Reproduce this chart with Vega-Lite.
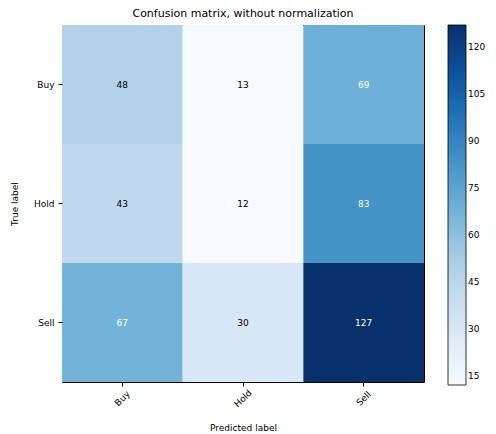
{
  "$schema": "https://vega.github.io/schema/vega-lite/v6.json",
  "width": 362,
  "height": 357,
  "padding": {"left": 10, "top": 8, "right": 5, "bottom": 2},
  "background": "white",
  "config": {
    "font": "DejaVu Sans",
    "view": {"stroke": "#000000", "strokeWidth": 1},
    "axis": {"labelFont": "DejaVu Sans", "titleFont": "DejaVu Sans", "labelFontSize": 9, "titleFontSize": 9, "titleFontWeight": "normal", "labelColor": "#000", "titleColor": "#000", "domain": false, "grid": false, "tickColor": "#000", "tickSize": 4}
  },
  "title": {"text": "Confusion matrix, without normalization", "font": "DejaVu Sans", "fontSize": 11, "fontWeight": "normal", "color": "#000", "offset": 6},
  "data": {"values": [
    {"true": "Buy", "pred": "Buy", "count": 48},
    {"true": "Buy", "pred": "Hold", "count": 13},
    {"true": "Buy", "pred": "Sell", "count": 69},
    {"true": "Hold", "pred": "Buy", "count": 43},
    {"true": "Hold", "pred": "Hold", "count": 12},
    {"true": "Hold", "pred": "Sell", "count": 83},
    {"true": "Sell", "pred": "Buy", "count": 67},
    {"true": "Sell", "pred": "Hold", "count": 30},
    {"true": "Sell", "pred": "Sell", "count": 127}
  ]},
  "encoding": {
    "x": {"field": "pred", "type": "nominal", "sort": ["Buy", "Hold", "Sell"], "title": "Predicted label",
      "axis": {"labelAngle": -45, "labelAlign": "center", "labelBaseline": "middle", "labelPadding": 12, "titlePadding": 15}},
    "y": {"field": "true", "type": "nominal", "sort": ["Buy", "Hold", "Sell"], "title": "True label",
      "axis": {"labelAngle": 0, "labelPadding": 4, "titlePadding": 14}}
  },
  "layer": [
    {
      "mark": {"type": "rect"},
      "encoding": {
        "color": {"field": "count", "type": "quantitative",
          "scale": {"domain": [12, 26.375, 40.75, 55.125, 69.5, 83.875, 98.25, 112.625, 127],
                    "range": ["#f7fbff", "#deebf7", "#c6dbef", "#9ecae1", "#6baed6", "#4292c6", "#2171b5", "#08519c", "#08306b"]},
          "legend": {"title": null, "values": [15, 30, 45, 60, 75, 90, 105, 120], "gradientLength": 360, "gradientThickness": 18, "gradientStrokeColor": "#000", "gradientStrokeWidth": 0.8, "labelFont": "DejaVu Sans", "labelFontSize": 9, "labelColor": "#000", "offset": 24, "tickCount": 8}
        }
      }
    },
    {
      "mark": {"type": "text", "font": "DejaVu Sans", "fontSize": 9},
      "encoding": {
        "text": {"field": "count", "type": "quantitative"},
        "color": {"condition": {"test": "datum.count > 63.5", "value": "white"}, "value": "black"}
      }
    }
  ]
}
